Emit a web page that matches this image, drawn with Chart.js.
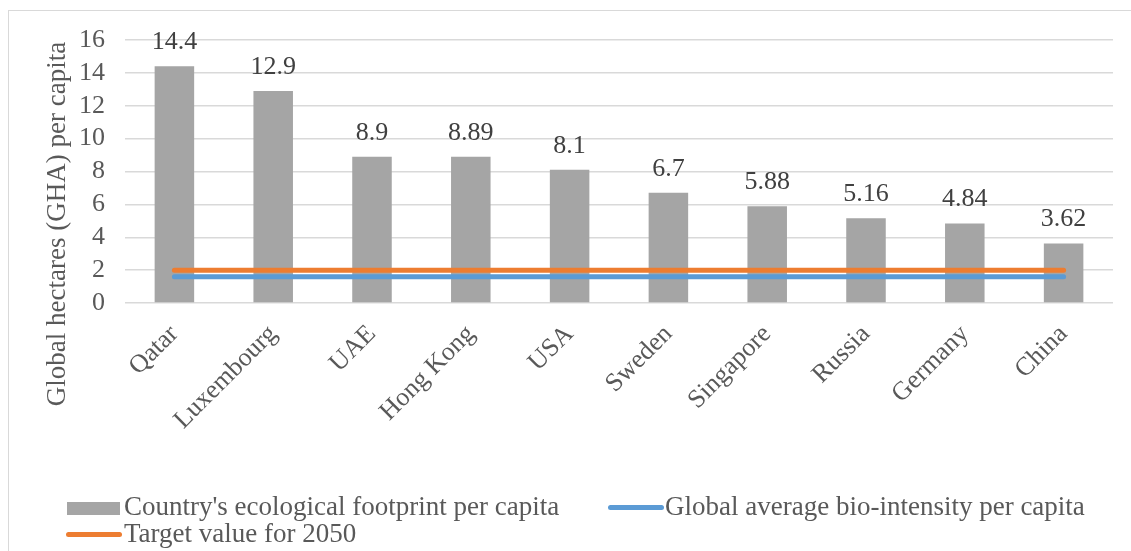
<!DOCTYPE html>
<html>
<head>
<meta charset="utf-8">
<script src="https://cdn.jsdelivr.net/npm/chart.js@4.4.1/dist/chart.umd.min.js"></script>
<style>
  html, body { margin: 0; padding: 0; background: #fff; }
  #wrap { position: relative; width: 1131px; height: 551px; overflow: hidden; }
  #frame { position: absolute; left: 8px; top: 10px; width: 1140px; height: 560px; border: 1px solid #D9D9D9; }
  canvas { position: absolute; left: 0; top: 0; }
  .lg { position: absolute; font-family: "Liberation Serif", "Times New Roman", serif; font-size: 27px; line-height: 27px; color: #595959; white-space: nowrap; }
  .sw { position: absolute; }
</style>
</head>
<body>
<div id="wrap">
  <div id="frame"></div>
  <canvas id="chart" width="1131" height="551"></canvas>
  <div class="sw" style="left:67px;top:502px;width:53px;height:13px;background:#A5A5A5"></div>
  <div class="lg" style="left:124px;top:493px">Country's ecological footprint per capita</div>
  <div class="sw" style="left:608px;top:505px;width:56px;height:5px;border-radius:3px;background:#5B9BD5"></div>
  <div class="lg" style="left:665px;top:493px">Global average bio-intensity per capita</div>
  <div class="sw" style="left:66px;top:532px;width:56px;height:5px;border-radius:3px;background:#ED7D31"></div>
  <div class="lg" style="left:124px;top:520px">Target value for 2050</div>
</div>
<script>
const countries = ["Qatar", "Luxembourg", "UAE", "Hong Kong", "USA", "Sweden", "Singapore", "Russia", "Germany", "China"];
const footprint = [14.4, 12.9, 8.9, 8.89, 8.1, 6.7, 5.88, 5.16, 4.84, 3.62];
const bioIntensity = [1.6, 1.6, 1.6, 1.6, 1.6, 1.6, 1.6, 1.6, 1.6, 1.6];
const target2050 = [2, 2, 2, 2, 2, 2, 2, 2, 2, 2];
const yTicks = [0, 2, 4, 6, 8, 10, 12, 14, 16];

const serif = '"Liberation Serif", "Times New Roman", serif';

// value labels above the bars
const barLabels = {
  id: 'barLabels',
  afterDatasetsDraw(chart) {
    const ctx = chart.ctx;
    const meta = chart.getDatasetMeta(0);
    ctx.save();
    ctx.font = '26px ' + serif;
    ctx.fillStyle = '#404040';
    ctx.textAlign = 'center';
    ctx.textBaseline = 'alphabetic';
    meta.data.forEach(function(bar, i) {
      ctx.fillText(String(footprint[i]), bar.x, bar.y - 17);
    });
    ctx.restore();
  }
};

// y axis title
const yTitle = {
  id: 'yTitle',
  afterDraw(chart) {
    const ctx = chart.ctx;
    ctx.save();
    ctx.translate(58, 224);
    ctx.rotate(-Math.PI / 2);
    ctx.font = '27px ' + serif;
    ctx.fillStyle = '#595959';
    ctx.textAlign = 'center';
    ctx.textBaseline = 'middle';
    ctx.fillText('Global hectares (GHA) per capita', 0, 0);
    ctx.restore();
  }
};

const ctx = document.getElementById("chart").getContext("2d");
new Chart(ctx, {
  type: "bar",
  data: {
    labels: countries,
    datasets: [
      {
        type: "bar",
        label: "Country's ecological footprint per capita",
        data: footprint,
        backgroundColor: "#A5A5A5",
        barPercentage: 0.4,
        categoryPercentage: 1.0,
        order: 3
      },
      {
        type: "line",
        label: "Global average bio-intensity per capita",
        data: bioIntensity,
        borderColor: "#5B9BD5",
        borderWidth: 5,
        borderCapStyle: "round",
        pointRadius: 0,
        fill: false,
        order: 2
      },
      {
        type: "line",
        label: "Target value for 2050",
        data: target2050,
        borderColor: "#ED7D31",
        borderWidth: 5,
        borderCapStyle: "round",
        pointRadius: 0,
        fill: false,
        order: 1
      }
    ]
  },
  options: {
    responsive: false,
    animation: false,
    layout: { padding: { left: 0, top: 40, right: 18, bottom: 0 } },
    plugins: {
      legend: { display: false },
      tooltip: { enabled: false }
    },
    scales: {
      x: {
        grid: { display: false },
        border: { display: false },
        ticks: {
          minRotation: 45,
          maxRotation: 45,
          autoSkip: false,
          padding: 8,
          color: "#595959",
          font: { family: serif, size: 26 }
        },
        afterFit(scale) { scale.height = 248; }
      },
      y: {
        min: 0,
        max: 16,
        afterBuildTicks(scale) { scale.ticks = yTicks.map(v => ({ value: v })); },
        grid: { color: "#D9D9D9", lineWidth: 1.5, drawTicks: false },
        border: { display: false },
        ticks: {
          autoSkip: false,
          padding: 20,
          color: "#595959",
          font: { family: serif, size: 26 }
        },
        afterFit(scale) { scale.width = 125; }
      }
    }
  },
  plugins: [barLabels, yTitle]
});
</script>
</body>
</html>
